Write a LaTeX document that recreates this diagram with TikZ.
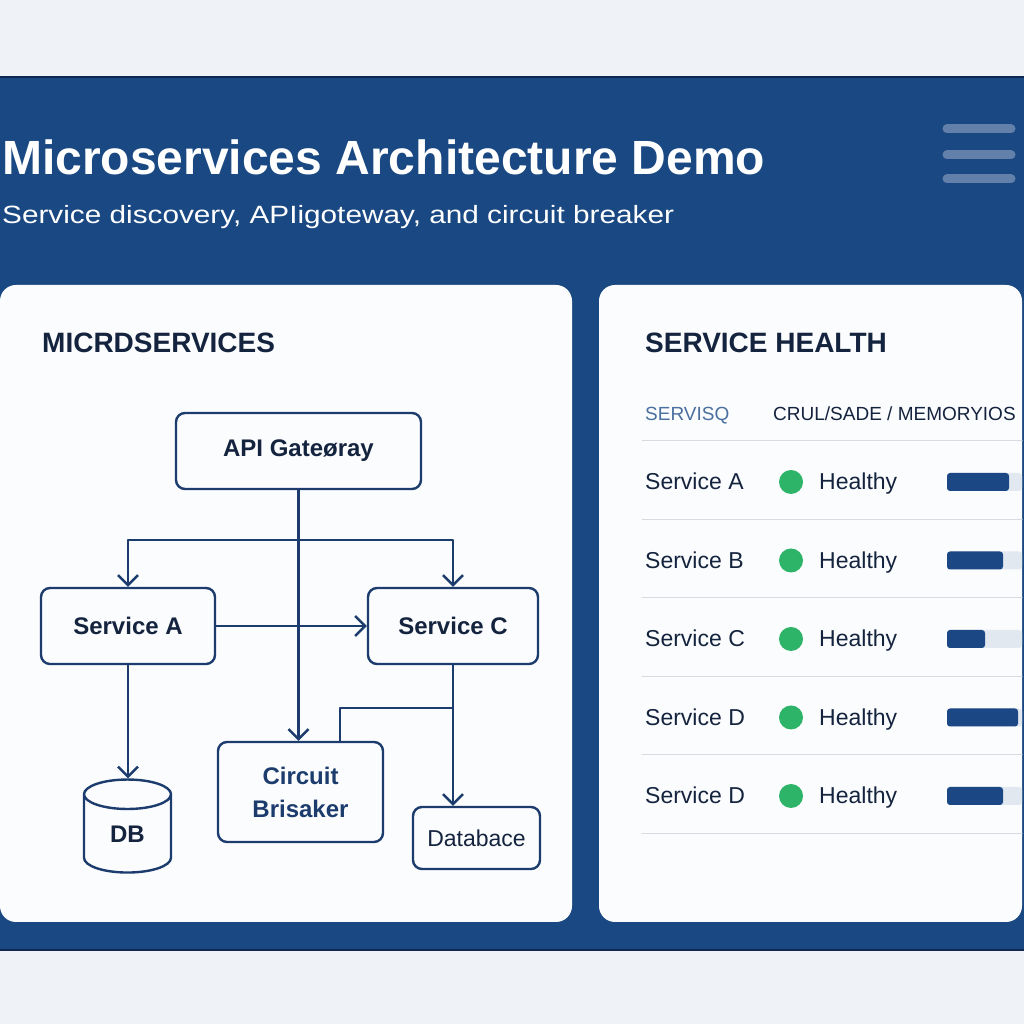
\documentclass[tikz,border=0pt]{standalone}
\usepackage{fontspec}
\setmainfont{Liberation Sans}
\newfontfamily\widesans[FakeStretch=1.19]{Liberation Sans}
\usetikzlibrary{arrows.meta,shapes.geometric}
\definecolor{page}{RGB}{239,242,246}
\definecolor{band}{RGB}{26,72,130}
\definecolor{bandedge}{RGB}{14,40,80}
\definecolor{menu}{RGB}{98,128,170}
\definecolor{card}{RGB}{251,252,253}
\definecolor{ink}{RGB}{20,35,62}
\definecolor{wire}{RGB}{28,60,110}
\definecolor{soft}{RGB}{74,112,160}
\definecolor{rule}{RGB}{214,219,226}
\definecolor{okay}{RGB}{46,180,104}
\definecolor{meter}{RGB}{27,72,132}
\definecolor{track}{RGB}{226,232,240}
\tikzset{
  svcbox/.style={draw=wire,line width=2.4pt,rounded corners=9pt,fill=card,text=ink,inner sep=0pt,align=center,font=\fontsize{24}{33}\selectfont\bfseries},
  dbshape/.style={shape=cylinder,shape border rotate=90,aspect=0.85,draw=wire,line width=2.4pt,fill=card,text=ink,inner sep=0pt,minimum width=87pt,minimum height=93pt,font=\fontsize{24}{28}\selectfont\bfseries},
  link/.style={draw=wire,line width=2.4pt,-{Straight Barb[length=10pt,width=20pt,line width=2.4pt]}},
  wireline/.style={draw=wire,line width=2.4pt},
  heading/.style={text=ink,inner sep=0pt,anchor=base west,font=\fontsize{28}{32}\selectfont\bfseries},
  colhead/.style={text=ink,inner sep=0pt,anchor=base west,font=\fontsize{19}{22}\selectfont},
  rowtext/.style={text=ink,inner sep=0pt,anchor=base west,font=\fontsize{23}{26}\selectfont},
  menubar/.style={menu,line width=9pt,line cap=round}
}
\begin{document}
\begin{tikzpicture}[x=1pt,y=1pt,line cap=round,line join=round]
\useasboundingbox (0,0) rectangle (1024,1024);
\fill[page] (0,0) rectangle (1024,1024);
\fill[band] (0,74) rectangle (1024,947);
\draw[bandedge,line width=1.5pt] (0,947) -- (1024,947);
\draw[bandedge,line width=1.5pt] (0,74) -- (1024,74);
\node[text=white,inner sep=0pt,anchor=base west,font=\fontsize{48}{52}\selectfont\bfseries] (title) at (2,849) {Microservices Architecture Demo};
\node[text=white,inner sep=0pt,anchor=base west,font=\fontsize{25}{30}\widesans] (subtitle) at (2,800) {Service discovery, APIigoteway, and circuit breaker};
\draw[menubar] (947,895) -- (1011,895);
\draw[menubar] (947,869) -- (1011,869);
\draw[menubar] (947,845) -- (1011,845);
\fill[card,rounded corners=16pt] (0,102) rectangle (572,739);
\fill[card,rounded corners=16pt] (599,102) rectangle (1022,739);
\node[heading] (leftttl) at (42,671) {MICRDSERVICES};
\node[heading] (rightttl) at (645,671) {SERVICE HEALTH};
\node[svcbox,minimum width=245pt,minimum height=76pt] (gateway) at (298.5,573) {API Gateøray};
\node[svcbox,minimum width=174pt,minimum height=76pt] (svcA) at (128,398) {Service A};
\node[svcbox,minimum width=170pt,minimum height=76pt] (svcC) at (453,398) {Service C};
\node[svcbox,minimum width=165pt,minimum height=100pt,text=wire] (breaker) at (300.5,232) {Circuit\\Brisaker};
\node[svcbox,minimum width=127pt,minimum height=62pt,font=\fontsize{23}{28}\selectfont] (dbase) at (476.5,186) {Databace};
\node[dbshape] (db) at (127.5,190) {DB};
\coordinate (fork) at (gateway.south |- 0,484);
\coordinate (tap) at (svcC.south |- 0,316);
\draw[link] (gateway.south) -- (gateway.south |- breaker.north);
\draw[link] (fork) -| (svcA.north);
\draw[link] (fork) -| (svcC.north);
\draw[link] (svcA.east) -- (svcC.west);
\draw[link] (svcA.south) -- (svcA.south |- db.north);
\draw[link] (svcC.south) -- (svcC.south |- dbase.north);
\draw[wireline] (tap) -| ([xshift=39.5pt]breaker.north);
\node[colhead,text=soft] (colsvc) at (645,603) {SERVISQ};
\node[colhead] (colload) at (773,603) {CRUL/SADE / MEMORYIOS};
\draw[rule,line width=1pt] (642,583) -- (1022,583);
\draw[rule,line width=1pt] (642,504.5) -- (1022,504.5);
\draw[rule,line width=1pt] (642,426) -- (1022,426);
\draw[rule,line width=1pt] (642,347.5) -- (1022,347.5);
\draw[rule,line width=1pt] (642,269) -- (1022,269);
\draw[rule,line width=1pt] (642,190.5) -- (1022,190.5);
\node[rowtext] (nameA) at (645,534) {Service A};
\fill[okay] (791,542) circle[radius=12pt];
\node[rowtext] (stateA) at (819,534) {Healthy};
\fill[track,rounded corners=3pt] (947,533) rectangle (1022,551);
\fill[meter,rounded corners=3pt] (947,533) rectangle (1009,551);
\node[rowtext] (nameB) at (645,455.5) {Service B};
\fill[okay] (791,463.5) circle[radius=12pt];
\node[rowtext] (stateB) at (819,455.5) {Healthy};
\fill[track,rounded corners=3pt] (947,454.5) rectangle (1022,472.5);
\fill[meter,rounded corners=3pt] (947,454.5) rectangle (1003,472.5);
\node[rowtext] (nameC) at (645,377) {Service C};
\fill[okay] (791,385) circle[radius=12pt];
\node[rowtext] (stateC) at (819,377) {Healthy};
\fill[track,rounded corners=3pt] (947,376) rectangle (1022,394);
\fill[meter,rounded corners=3pt] (947,376) rectangle (985,394);
\node[rowtext] (nameD) at (645,298.5) {Service D};
\fill[okay] (791,306.5) circle[radius=12pt];
\node[rowtext] (stateD) at (819,298.5) {Healthy};
\fill[track,rounded corners=3pt] (947,297.5) rectangle (1022,315.5);
\fill[meter,rounded corners=3pt] (947,297.5) rectangle (1018,315.5);
\node[rowtext] (nameE) at (645,220) {Service D};
\fill[okay] (791,228) circle[radius=12pt];
\node[rowtext] (stateE) at (819,220) {Healthy};
\fill[track,rounded corners=3pt] (947,219) rectangle (1022,237);
\fill[meter,rounded corners=3pt] (947,219) rectangle (1003,237);
\end{tikzpicture}
\end{document}
